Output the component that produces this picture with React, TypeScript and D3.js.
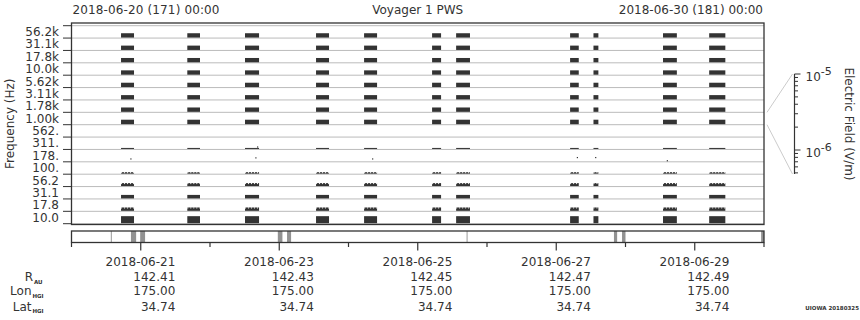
import React from "react";
import * as d3 from "d3";

// ---------- data ----------
const channelLabels = ["56.2k", "31.1k", "17.8k", "10.0k", "5.62k", "3.11k", "1.78k", "1.00k",
  "562.", "311.", "178.", "100.", "56.2", "31.1", "17.8", "10.0"];
// typical electric field level (V/m) per channel during data intervals (null = nothing above floor)
const channelLevels: (number | null)[] = [1.4e-6, 1.4e-6, 1.4e-6, 1.4e-6, 1.4e-6, 1.4e-6, 1.4e-6, 1.45e-6,
  null, 6.2e-7, null, 7.0e-7, 1.0e-6, 1.15e-6, 1.1e-6, 2.7e-6];
const texturedChannels = [11, 12, 14];
const segmentStarts = ["2018-06-20T17:10", "2018-06-21T16:08", "2018-06-22T12:08", "2018-06-23T12:45",
  "2018-06-24T05:24", "2018-06-25T04:58", "2018-06-25T13:18", "2018-06-27T04:48", "2018-06-27T12:54",
  "2018-06-28T13:00", "2018-06-29T05:00"];
const segmentEnds = ["2018-06-20T21:40", "2018-06-21T20:32", "2018-06-22T17:00", "2018-06-23T17:15",
  "2018-06-24T09:54", "2018-06-25T08:05", "2018-06-25T18:06", "2018-06-27T07:48", "2018-06-27T14:36",
  "2018-06-28T17:48", "2018-06-29T10:36"];
// isolated samples: time, channel index, field
const dotTimes = ["2018-06-20T20:23", "2018-06-22T15:42", "2018-06-22T16:18", "2018-06-24T08:10",
  "2018-06-27T07:07", "2018-06-27T13:28", "2018-06-28T14:18"];
const dotChannels = [10, 10, 9, 10, 10, 10, 10];
const dotValues = [1.0e-6, 1.3e-6, 9e-7, 1.0e-6, 1.4e-6, 1.4e-6, 6.5e-7];
// bottom status strip
const blockStarts = ["2018-06-20T20:36", "2018-06-20T23:48", "2018-06-22T23:30", "2018-06-23T02:42",
  "2018-06-27T20:00", "2018-06-27T22:48", "2018-06-29T23:00"];
const blockEnds = ["2018-06-20T22:24", "2018-06-21T01:30", "2018-06-23T01:06", "2018-06-23T04:06",
  "2018-06-27T21:06", "2018-06-28T00:00", "2018-06-30T00:00"];
const markerTimes = ["2018-06-20T13:48", "2018-06-25T17:06"];
// ephemeris rows
const dateLabels = ["2018-06-21", "2018-06-23", "2018-06-25", "2018-06-27", "2018-06-29"];
const rAU = ["142.41", "142.43", "142.45", "142.47", "142.49"];
const lonHGI = ["175.00", "175.00", "175.00", "175.00", "175.00"];
const latHGI = ["34.74", "34.74", "34.74", "34.74", "34.74"];
const startLabel = "2018-06-20 (171) 00:00";
const endLabel = "2018-06-30 (181) 00:00";
const fieldMax = 1e-5;
const fieldMin = Math.pow(10, -6 - 24 / 76);

// ---------- layout ----------
const W = 860, H = 320;
const L = 71.5, R = 764, T = 23, B = 224.5;
const chTop = 25.7, chBot = 223.7;
const FONT = "DejaVu Sans, sans-serif";
const INK = "#333";

const parse = d3.utcParse("%Y-%m-%dT%H:%M");

export default function App() {
  const x = d3.scaleUtc().domain([parse("2018-06-20T00:00")!, parse("2018-06-30T00:00")!]).range([L, R]);
  const yCh = d3.scaleLinear().domain([0, channelLabels.length]).range([chTop, chBot]);
  const chH = yCh(1) - yCh(0);
  const hScale = d3.scaleLog().domain([fieldMin, fieldMax]).range([0, chH]).clamp(true);

  const cbX = 794.5;
  const cScale = d3.scaleLog().domain([fieldMin, fieldMax]).range([174, 74]);
  const cTicks = cScale.ticks(10);

  const days = d3.utcDay.range(x.domain()[0], d3.utcDay.offset(x.domain()[1], 1));
  const labelDays = dateLabels.map((d) => d3.utcParse("%Y-%m-%d")(d)!);

  const segs = segmentStarts.map((s, i) => [parse(s)!, parse(segmentEnds[i])!]);

  const stripT = 231, stripB = 242.5;
  const rowY = [266, 281, 295, 310.5];

  return (
    <svg width={W} height={H} style={{ position: "absolute", left: 0, top: 0, background: "#fff" }}
      fontFamily={FONT}>
      {/* header */}
      <text x={L + 1} y={14} fontSize={12} fill={INK} textLength={147} lengthAdjust="spacing">{startLabel}</text>
      <text x={(L + R) / 2} y={14} fontSize={12} fill={INK} textAnchor="middle">Voyager 1 PWS</text>
      <text x={R - 1} y={14} fontSize={12} fill={INK} textAnchor="end">{endLabel}</text>

      {/* grid lines */}
      {d3.range(channelLabels.length + 1).map((k) => (
        <line key={"g" + k} x1={L} x2={R} y1={yCh(k)} y2={yCh(k)} stroke="#bbb" strokeWidth={1} />
      ))}

      {/* data bars */}
      {channelLabels.map((_, c) => {
        const v = channelLevels[c];
        if (v == null) return null;
        const h = hScale(v);
        const yb = yCh(c + 1) - 0.5;
        const textured = texturedChannels.includes(c);
        return (
          <g key={"c" + c}>
            {segs.map(([s, e], i) => (
              <g key={i}>
                <rect x={x(s)} width={x(e) - x(s)} y={yb - h} height={h} fill={INK} />
                {textured && (
                  <line x1={x(s)} x2={x(e)} y1={yb - h + 0.5} y2={yb - h + 0.5} stroke="#fff"
                    strokeWidth={1} strokeDasharray="1 2" />
                )}
              </g>
            ))}
          </g>
        );
      })}
      {dotTimes.map((t, i) => {
        const h = hScale(dotValues[i]);
        const yb = yCh(dotChannels[i] + 1) - 0.5;
        return <rect key={"d" + i} x={x(parse(t)!)} y={yb - h} width={1.2} height={1.2} fill={INK} />;
      })}

      {/* frame */}
      <rect x={L} y={T} width={R - L} height={B - T} fill="none" stroke={INK} strokeWidth={1.3} />

      {/* y axis */}
      {d3.range(channelLabels.length + 1).map((k) => (
        <line key={"t" + k} x1={L - 8.5} x2={L} y1={yCh(k)} y2={yCh(k)} stroke={INK} strokeWidth={1} />
      ))}
      {channelLabels.map((lab, c) => (
        <text key={"yl" + c} x={59} y={(yCh(c) + yCh(c + 1)) / 2} dy="0.35em" fontSize={12} fill={INK}
          textAnchor="end">{lab}</text>
      ))}
      <text transform={`translate(14,${(T + B) / 2}) rotate(-90)`} fontSize={12} fill={INK}
        textAnchor="middle">Frequency (Hz)</text>

      {/* colorbar connectors */}
      <line x1={R + 3} y1={yCh(7)} x2={cbX - 2} y2={cScale(fieldMax)} stroke="#ccc" strokeWidth={1} />
      <line x1={R + 3} y1={yCh(8)} x2={cbX - 2} y2={cScale(fieldMin)} stroke="#ccc" strokeWidth={1} />
      {/* colorbar axis */}
      <line x1={cbX} x2={cbX} y1={cScale(fieldMin)} y2={cScale(fieldMax)} stroke={INK} strokeWidth={1.2} />
      {cTicks.map((t, i) => {
        const major = Math.abs(Math.log10(t) - Math.round(Math.log10(t))) < 1e-9;
        return (
          <line key={"ct" + i} x1={cbX} x2={cbX + (major ? 6 : 3.5)} y1={cScale(t)} y2={cScale(t)}
            stroke={INK} strokeWidth={1} />
        );
      })}
      {[1e-5, 1e-6].map((t, i) => (
        <text key={"cl" + i} x={805.5} y={cScale(t) + 6.5} fontSize={12} fill={INK}>
          10<tspan dy={-6} fontSize={11}>{"-" + Math.round(-Math.log10(t))}</tspan>
        </text>
      ))}
      <text transform={`translate(845,124) rotate(90)`} fontSize={12} fill={INK}
        textAnchor="middle">Electric Field (V/m)</text>

      {/* bottom strip */}
      {blockStarts.map((s, i) => {
        const x0 = x(parse(s)!), x1 = x(parse(blockEnds[i])!);
        return <rect key={"b" + i} x={x0} y={stripT} width={x1 - x0} height={stripB - stripT} fill="#929292" />;
      })}
      {markerTimes.map((m, i) => (
        <line key={"m" + i} x1={x(parse(m)!)} x2={x(parse(m)!)} y1={stripT} y2={stripB} stroke="#999" strokeWidth={1} />
      ))}
      <rect x={L} y={stripT} width={R - L} height={stripB - stripT} fill="none" stroke={INK} strokeWidth={1.3} />
      {days.map((d, i) => {
        const major = labelDays.some((ld) => +ld === +d);
        return (
          <line key={"dt" + i} x1={x(d)} x2={x(d)} y1={stripB} y2={stripB + (major ? 8 : 4.5)} stroke={INK}
            strokeWidth={1.2} />
        );
      })}

      {/* ephemeris rows */}
      {[dateLabels, rAU, lonHGI, latHGI].map((row, r) =>
        row.map((v, i) => (
          <text key={`r${r}-${i}`} x={x(labelDays[i]) + 34.6} y={rowY[r]} fontSize={12} fill={INK}
            textAnchor="end">{v}</text>
        ))
      )}
      <text x={33} y={rowY[1]} fontSize={12} fill={INK} textAnchor="end">R</text>
      <text x={34} y={rowY[1] + 2.5} fontSize={5.5} fontWeight="bold" fill={INK}>AU</text>
      <text x={31.5} y={rowY[2]} fontSize={12} fill={INK} textAnchor="end">Lon</text>
      <text x={32.5} y={rowY[2] + 2.5} fontSize={5.5} fontWeight="bold" fill={INK}>HGI</text>
      <text x={31.5} y={rowY[3]} fontSize={12} fill={INK} textAnchor="end">Lat</text>
      <text x={32.5} y={rowY[3] + 2.5} fontSize={5.5} fontWeight="bold" fill={INK}>HGI</text>

      <text x={859} y={310} fontSize={5.5} fontWeight="bold" fill={INK} textAnchor="end">UIOWA 20180325</text>
    </svg>
  );
}
